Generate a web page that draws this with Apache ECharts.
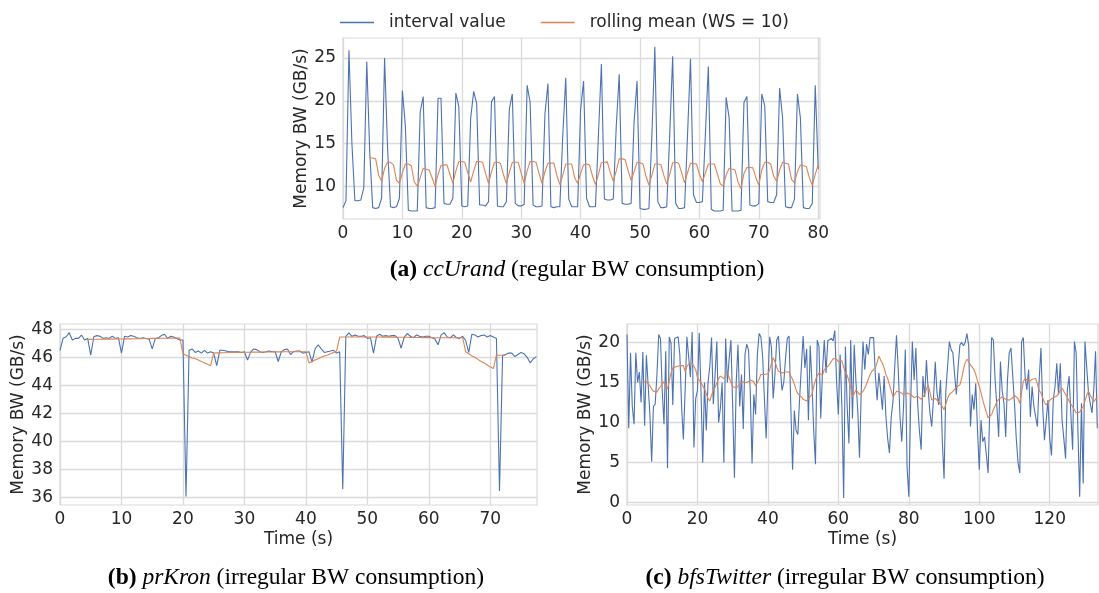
<!DOCTYPE html>
<html>
<head>
<meta charset="utf-8">
<script src="https://cdn.jsdelivr.net/npm/echarts@6/dist/echarts.min.js"></script>
<style>
  html, body { margin: 0; padding: 0; background: #ffffff; }
  #chart { width: 1099px; height: 593px; }
</style>
</head>
<body>
<div id="chart"></div>
<script>
// Sampling step of the bandwidth monitor (seconds) and rolling window size
const T_STEP = 0.5;
const WINDOW = 10;

// (a) ccUrand: memory bandwidth per interval (GB/s)
const ccUrandBW = [
  7.5, 8.3, 25.9, 15.0, 8.3, 8.3, 8.4, 9.8, 24.6, 14.0,
  7.5, 7.4, 7.5, 8.6, 25.0, 14.5, 7.6, 7.5, 7.6, 8.6,
  21.2, 17.0, 7.2, 7.1, 7.1, 7.1, 18.7, 20.5, 7.5, 7.4,
  7.4, 7.5, 20.3, 20.3, 8.0, 7.9, 7.9, 8.6, 20.9, 19.3,
  7.7, 7.6, 7.7, 18.0, 21.1, 19.7, 7.8, 7.8, 7.7, 8.2,
  19.9, 20.5, 7.7, 7.6, 7.6, 8.2, 19.0, 20.8, 8.0, 7.7,
  7.7, 7.9, 21.8, 19.8, 7.8, 7.6, 7.6, 7.7, 18.5, 22.0,
  7.6, 7.5, 7.6, 7.6, 16.0, 22.7, 8.5, 7.6, 7.6, 7.6,
  19.0, 22.3, 8.6, 7.6, 7.6, 7.6, 16.0, 24.3, 8.5, 8.4,
  8.4, 8.5, 17.0, 23.1, 8.0, 7.9, 7.9, 8.0, 17.5, 22.3,
  7.4, 7.3, 7.3, 7.4, 16.0, 26.3, 8.2, 7.5, 7.5, 7.6,
  16.0, 25.2, 8.0, 7.4, 7.4, 7.5, 16.0, 24.9, 9.0, 8.1,
  8.1, 8.2, 16.0, 24.0, 7.3, 7.1, 7.1, 7.1, 7.2, 20.4,
  18.0, 7.1, 7.1, 7.1, 7.2, 19.8, 20.5, 7.8, 7.7, 7.7,
  8.0, 20.8, 19.4, 8.2, 8.1, 8.1, 9.0, 21.5, 18.0, 7.6,
  7.5, 7.5, 8.5, 20.8, 18.0, 7.5, 7.4, 7.4, 8.0, 21.8,
  12.0
];
// (a) ccUrand: rolling mean, first value at sample WINDOW-1
const ccUrandMean = [
  13.3, 13.3, 13.2, 11.3, 10.6, 12.1, 12.8, 12.8, 12.5, 10.7,
  10.35, 11.6, 12.6, 12.6, 12.4, 10.5, 10.0, 11.0, 12.1, 12.0,
  11.9, 11.0, 10.0, 11.4, 12.4, 12.5, 12.5, 11.4, 10.35, 11.8,
  12.9, 12.9, 12.8, 11.6, 10.5, 11.8, 12.9, 12.9, 12.8, 11.5,
  10.35, 11.7, 12.8, 12.8, 12.7, 11.4, 10.3, 11.6, 12.8, 12.8,
  12.8, 11.5, 10.35, 11.8, 12.9, 12.9, 12.8, 11.5, 10.35, 11.7,
  12.7, 12.7, 12.7, 11.3, 10.2, 11.3, 12.6, 12.6, 12.6, 11.0,
  10.35, 11.5, 12.5, 12.6, 12.5, 11.2, 10.2, 11.4, 12.75, 12.8,
  12.85, 11.6, 10.6, 11.8, 13.2, 13.2, 13.1, 11.8, 10.7, 11.7,
  12.8, 12.75, 12.6, 11.2, 10.15, 11.3, 12.6, 12.6, 12.55, 11.3,
  10.25, 11.4, 12.75, 12.8, 12.7, 11.6, 10.4, 11.6, 12.7, 12.65,
  12.6, 11.4, 10.55, 11.5, 12.6, 12.6, 12.6, 11.5, 10.3, 10.05,
  11.3, 12.1, 12.0, 11.9, 10.5, 9.7, 11.5, 12.2, 12.2, 12.15,
  11.0, 10.15, 11.9, 12.8, 12.8, 12.6, 11.2, 10.55, 11.9, 12.8,
  12.7, 12.6, 10.8, 10.4, 11.7, 12.5, 12.4, 12.3, 11.0, 10.1,
  11.4, 12.5
];

// (b) prKron: memory bandwidth per interval (GB/s)
const prKronBW = [
  46.5, 47.36, 47.47, 47.76, 47.24, 47.35, 47.35, 47.59, 47.24, 47.35,
  46.16, 47.47, 47.55, 47.5, 47.35, 47.4, 47.35, 47.5, 47.35, 47.4,
  46.3, 47.5, 47.45, 47.55, 47.5, 47.4, 47.35, 47.4, 47.35, 47.3,
  46.6, 47.35, 47.4, 47.55, 47.65, 47.35, 47.5, 47.45, 47.35, 47.24,
  47.24, 36.05, 46.5, 46.6, 46.35, 46.45, 46.3, 46.5, 46.3, 46.4,
  46.3, 45.4, 46.5, 46.5, 46.45, 46.4, 46.4, 46.4, 46.4, 46.35,
  46.4, 45.8, 46.35, 46.6, 46.55, 46.4, 46.35, 46.4, 46.45, 46.4,
  46.4, 45.7, 46.4, 46.55, 46.6, 46.2, 46.4, 46.45, 46.45, 46.3,
  46.35, 46.4, 45.65, 46.6, 46.9, 46.6, 46.35, 46.4, 46.45, 46.5,
  46.3, 46.4, 36.57, 47.5, 47.75, 47.5, 47.6, 47.5, 47.5, 47.55,
  47.35, 47.4, 46.3, 47.5, 47.65, 47.5, 47.55, 47.5, 47.55, 47.55,
  47.35, 46.65, 47.45, 47.7, 47.5, 47.4, 47.6, 47.5, 47.45, 47.5,
  47.5, 47.4, 47.3, 46.9, 47.6, 47.75, 47.45, 47.4, 47.6, 47.4,
  47.35, 47.5, 47.2, 46.35, 47.65, 47.6, 47.45, 47.55, 47.6, 47.45,
  47.55, 47.45, 47.35, 36.45, 46.15, 46.2, 46.3, 46.3, 46.05, 46.2,
  46.35, 46.25, 46.0, 45.6, 45.9, 46.05
];
// (b) prKron: rolling mean, first value at sample WINDOW-1
const prKronMean = [
  47.28, 47.28, 47.29, 47.29, 47.29, 47.3, 47.3, 47.3, 47.3, 47.31,
  47.31, 47.31, 47.32, 47.32, 47.32, 47.33, 47.33, 47.33, 47.34, 47.34,
  47.34, 47.35, 47.35, 47.35, 47.36, 47.36, 47.36, 47.37, 47.37, 47.37,
  47.38, 46.25, 46.15, 46.05, 45.95, 45.9, 45.8, 45.7, 45.6, 45.5,
  45.4, 46.3, 46.32, 46.32, 46.33, 46.33, 46.34, 46.34, 46.35, 46.35,
  46.35, 46.36, 46.36, 46.36, 46.37, 46.37, 46.37, 46.38, 46.38, 46.38,
  46.38, 46.39, 46.39, 46.39, 46.4, 46.4, 46.4, 46.4, 46.4, 46.4,
  46.4, 46.4, 45.6, 45.7, 45.8, 45.9, 46.0, 46.1, 46.15, 46.25,
  46.35, 46.45, 47.45, 47.45, 47.45, 47.45, 47.45, 47.45, 47.45, 47.45,
  47.45, 47.45, 47.45, 47.45, 47.45, 47.45, 47.44, 47.44, 47.44, 47.44,
  47.44, 47.43, 47.43, 47.43, 47.43, 47.42, 47.42, 47.42, 47.42, 47.41,
  47.41, 47.41, 47.4, 47.4, 47.4, 47.4, 47.4, 47.4, 47.4, 47.4,
  47.4, 47.4, 47.4, 46.4, 46.25, 46.1, 46.0, 45.85, 45.7, 45.6,
  45.45, 45.3, 45.2, 46.15, 46.15, 46.15, 46.15
];

// (c) bfsTwitter: memory bandwidth per interval (GB/s)
const bfsTwitterBW = [
  21.0, 9.3, 18.7, 12.0, 9.8, 18.7, 15.0, 16.3, 12.5, 18.8,
  9.6, 18.4, 18.3, 11.0, 5.1, 12.0, 12.3, 16.0, 21.0, 20.5,
  14.0, 9.8, 18.9, 4.3, 20.7, 19.9, 12.2, 20.5, 20.7, 20.7,
  18.5, 12.0, 7.9, 14.0, 20.7, 20.5, 15.7, 21.3, 6.9, 13.0,
  14.0, 21.2, 14.0, 5.0, 15.0, 9.0, 15.0, 17.0, 20.6, 12.3,
  16.0, 20.1, 10.0, 11.8, 15.0, 5.0, 20.5, 15.0, 18.0, 20.3,
  12.0, 3.1, 15.0, 19.7, 12.0, 16.0, 9.2, 18.5, 19.8, 19.0,
  13.7, 4.9, 13.5, 11.0, 18.5, 21.1, 20.7, 18.3, 13.0, 8.0,
  15.0, 20.7, 19.4, 13.0, 16.0, 20.3, 20.8, 17.0, 14.0, 15.0,
  18.0, 20.5, 20.8, 12.0, 4.1, 11.5, 9.0, 8.5, 13.0, 17.0,
  20.8, 16.8, 19.2, 10.3, 19.6, 15.0, 9.0, 4.8, 20.3, 19.5,
  10.5, 16.5, 20.3, 16.2, 20.2, 20.0, 20.5, 20.2, 21.5, 15.0,
  11.0, 18.5, 12.0, 0.6, 19.5, 12.0, 7.4, 20.3, 10.5, 19.7,
  15.0, 11.6, 5.6, 14.0, 20.1, 16.6, 19.8, 18.5, 20.6, 20.6,
  20.6, 15.9, 12.8, 16.2, 14.0, 11.6, 15.8, 10.7, 8.0, 6.2,
  10.7, 12.6, 17.0, 20.9, 16.6, 10.7, 7.6, 12.0, 19.1, 4.5,
  0.75, 12.0, 20.1, 15.3, 19.3, 12.4, 9.0, 6.6, 15.8, 13.2,
  17.8, 14.0, 11.2, 9.5, 13.0, 17.6, 13.7, 12.2, 15.3, 7.8,
  3.0, 13.9, 17.0, 20.1, 19.1, 18.7, 16.0, 13.5, 17.0, 19.7,
  20.0, 19.6, 20.0, 21.1, 19.6, 9.5, 13.5, 11.6, 14.9, 9.0,
  4.1, 10.3, 7.6, 8.2, 6.0, 3.7, 12.0, 20.6, 20.3, 15.3,
  12.0, 8.2, 17.6, 14.0, 12.4, 8.2, 15.3, 18.7, 19.3, 15.8,
  12.4, 8.0, 5.0, 3.7, 20.1, 20.6, 15.8, 14.1, 16.6, 10.7,
  14.5, 12.0, 10.7, 9.5, 15.3, 19.3, 12.0, 7.8, 10.3, 12.8,
  8.0, 5.9, 12.8, 14.5, 17.4, 13.5, 17.4, 10.3, 8.0, 5.5,
  14.1, 15.8, 11.0, 6.6, 20.1, 18.7, 9.0, 0.75, 12.4, 2.4,
  20.1, 20.1, 13.7, 12.4, 11.2, 14.1, 18.9, 9.3
];
// (c) bfsTwitter: rolling mean, first value at sample WINDOW-1
const bfsTwitterMean = [
  15.1, 15.0, 15.1, 15.0, 14.6, 14.2, 13.9, 13.7, 13.8, 14.2,
  14.5, 14.7, 15.1, 14.6, 14.2, 15.2, 16.2, 16.8, 17.0, 17.0,
  17.1, 17.1, 17.1, 17.1, 16.4, 17.0, 17.3, 17.3, 17.4, 17.4,
  16.6, 15.6, 15.3, 15.0, 14.9, 14.2, 13.6, 13.0, 12.7, 13.4,
  14.0, 14.4, 14.6, 15.5, 15.8, 15.9, 15.5, 15.9, 16.2, 15.6,
  15.0, 14.5, 14.4, 14.3, 14.5, 14.8, 15.0, 15.1, 15.0, 15.0,
  15.2, 15.3, 15.5, 15.1, 14.6, 14.5, 15.4, 16.0, 16.2, 16.0,
  15.8, 16.1, 16.6, 17.4, 18.1, 17.6, 16.9, 16.4, 16.3, 16.2,
  16.2, 16.3, 16.4, 16.3, 15.8, 15.4, 14.8, 14.1, 13.6, 13.4,
  13.2, 12.9, 12.8, 12.7, 13.0, 13.2, 13.5, 14.5, 15.3, 15.8,
  16.2, 16.4, 15.9, 16.6, 16.8, 17.0, 17.2, 17.6, 18.0, 18.2,
  17.9, 17.6, 17.8, 17.7, 16.9, 16.2, 15.9, 15.2, 14.4, 13.2,
  13.6, 14.1, 13.8, 13.5, 13.7, 13.9, 14.3, 14.8, 15.4, 16.0,
  16.4, 16.6, 16.8, 17.5, 18.3, 17.8, 17.4, 16.8, 16.0, 15.5,
  14.7, 14.0, 13.2, 13.5, 13.9, 14.1, 13.8, 13.6, 13.5, 13.6,
  13.7, 13.7, 13.5, 13.3, 13.1, 13.2, 13.3, 13.1, 12.9, 12.8,
  13.5, 14.2, 14.7, 13.8, 12.8, 12.9, 13.0, 12.8, 12.6, 12.4,
  12.0, 11.6, 12.3, 13.0, 13.5, 13.7, 13.9, 14.1, 14.4, 14.6,
  14.7, 15.5, 16.6, 17.5, 17.9, 17.6, 17.2, 17.0, 16.6, 16.0,
  15.2, 14.5, 13.7, 12.8, 12.0, 11.3, 10.6, 10.4, 11.0, 11.6,
  12.1, 12.6, 12.9, 13.1, 13.2, 13.1, 12.9, 12.9, 12.8, 12.8,
  13.1, 13.4, 13.5, 13.0, 12.4, 13.8, 15.1, 15.5, 15.3, 15.1,
  15.2, 15.4, 15.5, 15.5, 14.8, 14.0, 13.7, 13.1, 12.5, 12.2,
  12.5, 12.8, 13.0, 13.1, 13.2, 13.3, 13.6, 14.0, 14.3, 13.9,
  13.5, 13.1, 12.7, 12.3, 12.0, 11.6, 11.2, 11.0, 11.3, 11.7,
  12.0, 12.7, 13.4, 13.9, 13.4, 13.0, 12.6, 12.9, 13.2
];

// Axis tick labels
const ccUrandXTicks = [0, 10, 20, 30, 40, 50, 60, 70, 80];
const ccUrandYTicks = [10, 15, 20, 25];
const prKronXTicks = [0, 10, 20, 30, 40, 50, 60, 70];
const prKronYTicks = [36, 38, 40, 42, 44, 46, 48];
const bfsXTicks = [0, 20, 40, 60, 80, 100, 120];
const bfsYTicks = [0, 5, 10, 15, 20];

const SERIES_NAMES = ['interval value', 'rolling mean (WS = 10)'];
const Y_NAME = 'Memory BW (GB/s)';
const X_NAME = 'Time (s)';

// [time, value] pairs; the rolling mean starts once the window is full
function toPoints(values, firstIndex) {
  return values.map((v, i) => [(i + firstIndex) * T_STEP, v]);
}

const BLUE = '#4c72b0';
const ORANGE = '#dd8452';
const GRID_COLOR = '#dadada';
const TEXT_COLOR = '#262626';
const FONT = '"DejaVu Sans", sans-serif';
const SERIF = '"Liberation Serif", serif';

function gridCfg(left, top, width, height) {
  return { left, top, width, height, show: true, borderColor: GRID_COLOR, borderWidth: 1.2, backgroundColor: '#ffffff' };
}

function xAxisCfg(gridIndex, min, max, ticks, name) {
  return {
    type: 'value', gridIndex, min, max,
    name: name || '', nameLocation: 'middle', nameGap: 26,
    nameTextStyle: { fontFamily: FONT, fontSize: 17, color: TEXT_COLOR },
    axisLine: { show: false },
    axisTick: { show: false, customValues: ticks },
    axisLabel: { customValues: ticks, fontFamily: FONT, fontSize: 17, color: TEXT_COLOR, margin: 6 },
    splitLine: { show: true, lineStyle: { color: GRID_COLOR, width: 1.3 } }
  };
}

function yAxisCfg(gridIndex, min, max, ticks) {
  return {
    type: 'value', gridIndex, min, max,
    name: Y_NAME, nameLocation: 'middle', nameGap: 33, nameRotate: 90,
    nameTextStyle: { fontFamily: FONT, fontSize: 17, color: TEXT_COLOR },
    axisLine: { show: false },
    axisTick: { show: false, customValues: ticks },
    axisLabel: { customValues: ticks, fontFamily: FONT, fontSize: 17, color: TEXT_COLOR, margin: 7 },
    splitLine: { show: true, lineStyle: { color: GRID_COLOR, width: 1.3 } }
  };
}

function lineSeries(name, idx, data, color) {
  return {
    name, type: 'line', xAxisIndex: idx, yAxisIndex: idx, data,
    showSymbol: false, symbol: 'none', animation: false,
    lineStyle: { color, width: 1.1 }, itemStyle: { color }
  };
}

const chart = echarts.init(document.getElementById('chart'), null, { renderer: 'canvas' });

const CAPTION_SIZE = 23.5;
const captionRich = {
  b: { fontFamily: SERIF, fontSize: CAPTION_SIZE, fontWeight: 'bold', fill: '#000' },
  i: { fontFamily: SERIF, fontSize: CAPTION_SIZE, fontStyle: 'italic', fill: '#000' },
  n: { fontFamily: SERIF, fontSize: CAPTION_SIZE, fill: '#000' }
};
function caption(x, y, tag, name, desc) {
  return {
    type: 'text', x, y,
    style: {
      text: '{b|(' + tag + ')}{n| }{i|' + name + '}{n| (' + desc + ')}',
      rich: captionRich, align: 'center', verticalAlign: 'middle'
    }
  };
}

chart.setOption({
  backgroundColor: '#ffffff',
  animation: false,
  legend: {
    left: 335, top: 9,
    data: SERIES_NAMES,
    icon: 'rect', itemWidth: 34, itemHeight: 1.5, itemGap: 35,
    textStyle: { fontFamily: FONT, fontSize: 17, color: TEXT_COLOR, padding: [0, 0, 0, 10] }
  },
  grid: [
    gridCfg(343, 38, 477, 181),
    gridCfg(60, 324, 477, 181),
    gridCfg(627, 324, 471, 181)
  ],
  xAxis: [
    xAxisCfg(0, 0, 80.3, ccUrandXTicks),
    xAxisCfg(1, 0, 77.6, prKronXTicks, X_NAME),
    xAxisCfg(2, 0, 133.7, bfsXTicks, X_NAME)
  ],
  yAxis: [
    yAxisCfg(0, 6.17, 27.34, ccUrandYTicks),
    yAxisCfg(1, 35.45, 48.38, prKronYTicks),
    yAxisCfg(2, -0.29, 22.3, bfsYTicks)
  ],
  series: [
    lineSeries(SERIES_NAMES[0], 0, toPoints(ccUrandBW, 0), BLUE),
    lineSeries(SERIES_NAMES[1], 0, toPoints(ccUrandMean, WINDOW - 1), ORANGE),
    lineSeries(SERIES_NAMES[0], 1, toPoints(prKronBW, 0), BLUE),
    lineSeries(SERIES_NAMES[1], 1, toPoints(prKronMean, WINDOW - 1), ORANGE),
    lineSeries(SERIES_NAMES[0], 2, toPoints(bfsTwitterBW, 0), BLUE),
    lineSeries(SERIES_NAMES[1], 2, toPoints(bfsTwitterMean, WINDOW - 1), ORANGE)
  ],
  graphic: [
    caption(577, 270, 'a', 'ccUrand', 'regular BW consumption'),
    caption(296, 578, 'b', 'prKron', 'irregular BW consumption'),
    caption(845, 578, 'c', 'bfsTwitter', 'irregular BW consumption')
  ]
});
</script>
</body>
</html>
